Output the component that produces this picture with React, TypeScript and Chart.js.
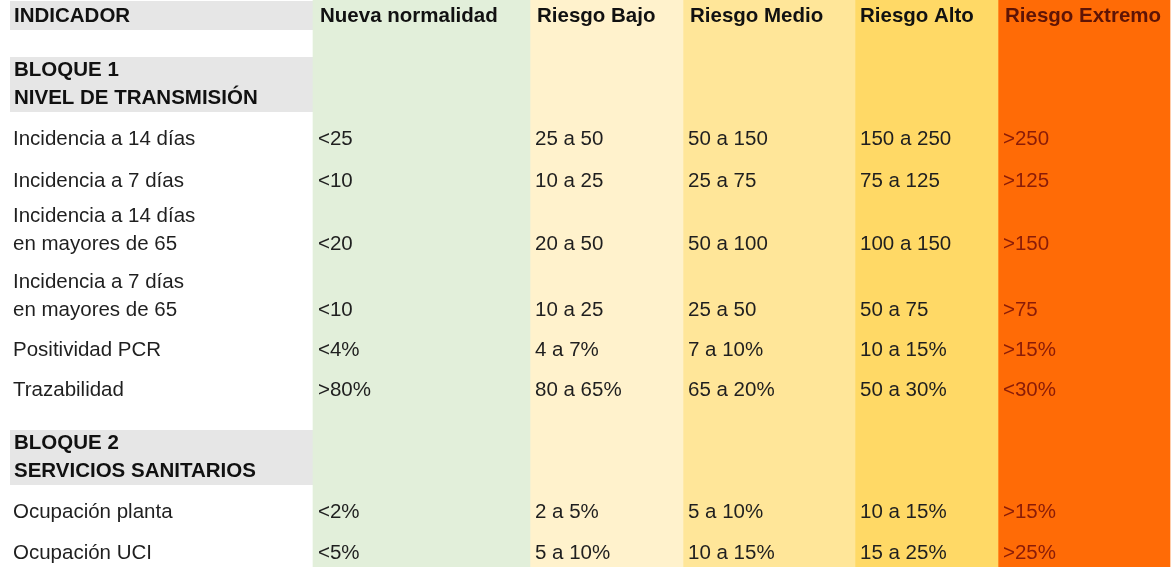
import React, { useEffect, useRef } from "react";
import { Chart, registerables } from "chart.js";

Chart.register(...registerables);

// ---- data ----
const columnHeaders = ["INDICADOR", "Nueva normalidad", "Riesgo Bajo", "Riesgo Medio", "Riesgo Alto", "Riesgo Extremo"];
const blocks = [
  ["BLOQUE 1", "NIVEL DE TRANSMISIÓN"],
  ["BLOQUE 2", "SERVICIOS SANITARIOS"],
];
const indicators = [
  ["Incidencia a 14 días"],
  ["Incidencia a 7 días"],
  ["Incidencia a 14 días", "en mayores de 65"],
  ["Incidencia a 7 días", "en mayores de 65"],
  ["Positividad PCR"],
  ["Trazabilidad"],
  ["Ocupación planta"],
  ["Ocupación UCI"],
];
const nuevaNormalidad = ["<25", "<10", "<20", "<10", "<4%", ">80%", "<2%", "<5%"];
const riesgoBajo = ["25 a 50", "10 a 25", "20 a 50", "10 a 25", "4 a 7%", "80 a 65%", "2 a 5%", "5 a 10%"];
const riesgoMedio = ["50 a 150", "25 a 75", "50 a 100", "25 a 50", "7 a 10%", "65 a 20%", "5 a 10%", "10 a 15%"];
const riesgoAlto = ["150 a 250", "75 a 125", "100 a 150", "50 a 75", "10 a 15%", "50 a 30%", "10 a 15%", "15 a 25%"];
const riesgoExtremo = [">250", ">125", ">150", ">75", ">15%", "<30%", ">15%", ">25%"];

// ---- layout (table structure, in table units) ----
const colEdges = [10, 313, 530, 683, 855, 998, 1170];
const rowPlan: { kind: string; ref?: number; h: number }[] = [
  { kind: "header", h: 30 },
  { kind: "blank", h: 27 },
  { kind: "block", ref: 0, h: 55 },
  { kind: "ind", ref: 0, h: 41 },
  { kind: "ind", ref: 1, h: 42 },
  { kind: "ind", ref: 2, h: 63 },
  { kind: "ind", ref: 3, h: 66 },
  { kind: "ind", ref: 4, h: 40 },
  { kind: "ind", ref: 5, h: 40 },
  { kind: "blank", h: 26 },
  { kind: "block", ref: 1, h: 55 },
  { kind: "ind", ref: 6, h: 41 },
  { kind: "ind", ref: 7, h: 41 },
];
const tableHeight = rowPlan.reduce((s, r) => s + r.h, 0);

// ---- styles ----
const colColors = ["#e2efda", "#fff2cc", "#ffe699", "#ffd966", "#ff6b06"];
const grayBand = "#e6e6e6";
const textColor = "#1f1f1f";
const extremeHeaderColor = "#5e1406";
const extremeValueColor = "#8a1c08";
const FONT = "'Liberation Sans', Arial, sans-serif";
const FS = 20.5;
const LINE = 28;

export default function App() {
  const ref = useRef<HTMLCanvasElement | null>(null);

  useEffect(() => {
    if (!ref.current) return;
    const valueCols = [nuevaNormalidad, riesgoBajo, riesgoMedio, riesgoAlto, riesgoExtremo];

    const tablePlugin = {
      id: "tableText",
      beforeDatasetsDraw(chart: any) {
        const { ctx } = chart;
        const xs = chart.scales.x;
        const ys = chart.scales.y2;
        let top = 0;
        ctx.save();
        ctx.fillStyle = grayBand;
        rowPlan.forEach((r, i) => {
          const bottom = top + r.h;
          if (r.kind === "header" || r.kind === "block") {
            const x0 = xs.getPixelForValue(colEdges[0]);
            const x1 = xs.getPixelForValue(colEdges[1]);
            const y0 = ys.getPixelForValue(i === 0 ? top + 1 : top);
            const y1 = ys.getPixelForValue(bottom);
            ctx.fillRect(x0, y0, x1 - x0, y1 - y0);
          }
          top = bottom;
        });
        ctx.restore();
      },
      afterDatasetsDraw(chart: any) {
        const { ctx } = chart;
        const xs = chart.scales.x;
        const ys = chart.scales.y2;
        ctx.save();
        ctx.textBaseline = "middle";
        ctx.textAlign = "left";
        let top = 0;
        const colX = (c: number, pad: number) => xs.getPixelForValue(colEdges[c] + pad);
        rowPlan.forEach((r) => {
          const bottom = top + r.h;
          const yLast = ys.getPixelForValue(bottom - 14);
          if (r.kind === "header") {
            ctx.font = `bold ${FS}px ${FONT}`;
            columnHeaders.forEach((h, c) => {
              ctx.fillStyle = c === 5 ? extremeHeaderColor : "#111111";
              const pad = c === 0 ? 4 : c === 4 ? 5 : 7;
              ctx.fillText(h, colX(c, pad), yLast);
            });
          } else if (r.kind === "block") {
            ctx.font = `bold ${FS}px ${FONT}`;
            ctx.fillStyle = "#111111";
            const lines = blocks[r.ref as number];
            lines.forEach((ln, k) => {
              const y = ys.getPixelForValue(bottom - 14 - (lines.length - 1 - k) * LINE);
              ctx.fillText(ln, colX(0, 4), y);
            });
          } else if (r.kind === "ind") {
            const idx = r.ref as number;
            ctx.font = `${FS}px ${FONT}`;
            ctx.fillStyle = textColor;
            const lines = indicators[idx];
            lines.forEach((ln, k) => {
              const y = ys.getPixelForValue(bottom - 14 - (lines.length - 1 - k) * LINE);
              ctx.fillText(ln, colX(0, 3), y);
            });
            valueCols.forEach((vals, c) => {
              ctx.fillStyle = c === 4 ? extremeValueColor : textColor;
              ctx.fillText(vals[idx], colX(c + 1, 5), yLast);
            });
          }
          top = bottom;
        });
        ctx.restore();
      },
    };

    const chart = new Chart(ref.current, {
      type: "bar",
      data: {
        labels: ["tabla"],
        datasets: colColors.map((color, i) => ({
          label: columnHeaders[i + 1],
          data: [[colEdges[i + 1], colEdges[i + 2]]] as any,
          backgroundColor: color,
          borderWidth: 0,
          barPercentage: 1,
          categoryPercentage: 1,
          grouped: false,
          yAxisID: "y",
        })),
      },
      options: {
        indexAxis: "y",
        animation: false,
        responsive: false,
        devicePixelRatio: 1,
        layout: { padding: { left: 0, right: 0, top: 0, bottom: 571 - tableHeight } },
        plugins: { legend: { display: false }, tooltip: { enabled: false } },
        scales: {
          x: { type: "linear", min: 0, max: 1173, display: false, offset: false },
          y: { type: "category", display: false },
          y2: {
            type: "linear",
            axis: "y",
            min: 0,
            max: tableHeight,
            reverse: true,
            display: false,
            offset: false,
            grace: 0,
            grid: { offset: false },
          },
        },
      } as any,
      plugins: [tablePlugin],
    });
    return () => chart.destroy();
  }, []);

  return (
    <div style={{ position: "absolute", left: 0, top: 0, width: 1173, height: 571, background: "#ffffff" }}>
      <canvas ref={ref} width={1173} height={571} />
    </div>
  );
}
